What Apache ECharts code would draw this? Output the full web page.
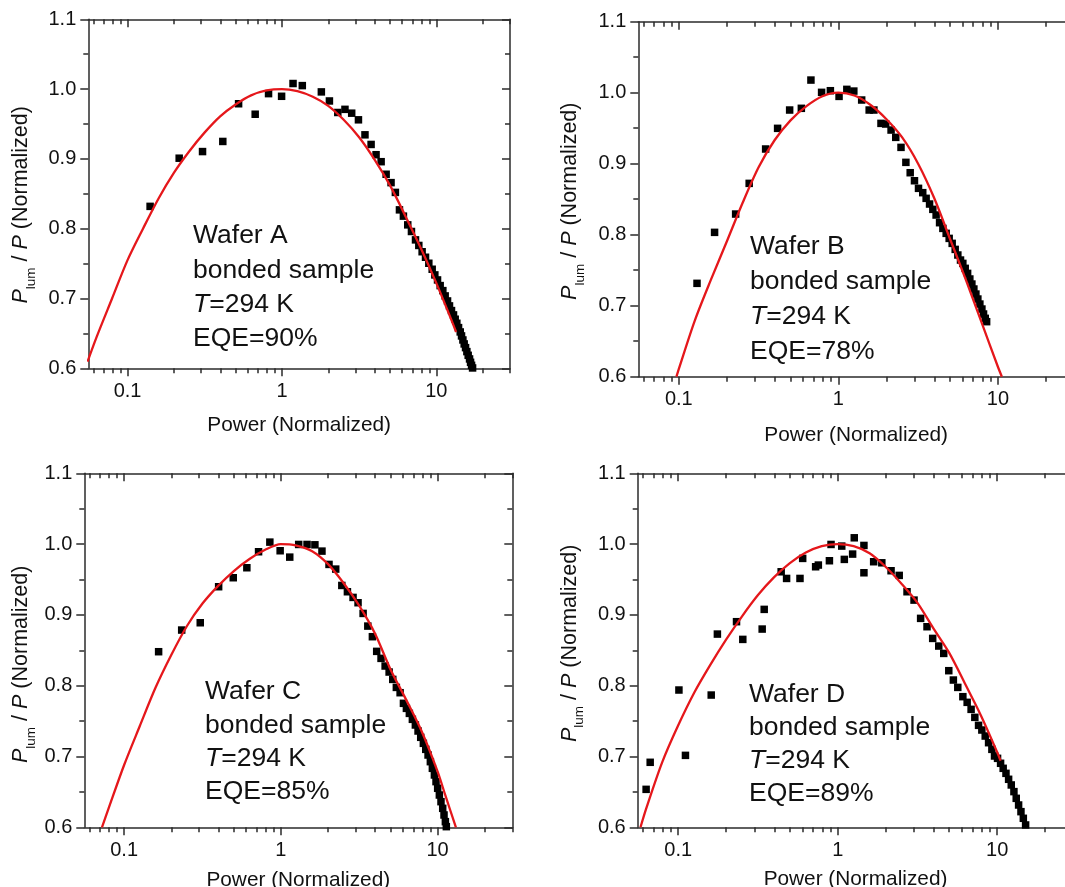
<!DOCTYPE html>
<html>
<head>
<meta charset="utf-8">
<script src="https://cdn.jsdelivr.net/npm/echarts@6/dist/echarts.min.js"></script>
<style>
html,body{margin:0;padding:0;background:#fff;}
#chart{width:1065px;height:887px;}
</style>
</head>
<body>
<div id="chart"></div>
<script>
// ---------- axis ticks ----------
const X_MIN = 0.0557, X_MAX = 30;
const xMajorTicks = [0.1, 1, 10];
const xMinorTicks = [0.06, 0.07, 0.08, 0.09, 0.2, 0.3, 0.4, 0.5, 0.6, 0.7, 0.8, 0.9, 2, 3, 4, 5, 6, 7, 8, 9, 20, 30];
const Y_MIN = 0.6, Y_MAX = 1.1, Y_STEP = 0.1;

// ---------- Wafer A ----------
const aPower = [0.140,0.216,0.306,0.414,0.524,0.671,0.819,0.995,1.18,1.355,1.80,2.03,2.30,2.56,2.83,3.13,3.45,3.78,4.07,4.39,4.73,5.09,5.43,5.77,6.12,6.53,6.90,7.33,7.70,8.09,8.51,8.94,9.40,9.78,10.18,10.59,11.02,11.41,11.82,12.17,12.54,12.92,13.25,13.58,13.93,14.28,14.56,14.86,15.15,15.46,15.77,16.08,16.41,16.66,16.91,17.17];
const aRatio = [0.832,0.901,0.9105,0.925,0.979,0.964,0.9935,0.9897,1.008,1.005,0.996,0.983,0.9665,0.971,0.9655,0.956,0.9345,0.9207,0.906,0.896,0.878,0.866,0.852,0.827,0.818,0.8055,0.796,0.784,0.776,0.767,0.7591,0.7505,0.7419,0.7338,0.7266,0.7185,0.7113,0.7037,0.6965,0.6894,0.6827,0.6765,0.6703,0.6645,0.6583,0.6521,0.6464,0.6406,0.6349,0.6296,0.6239,0.6186,0.6134,0.6086,0.6043,0.6005];
const aFitPower = [0.0551,0.0631,0.0794,0.1,0.1259,0.1585,0.1995,0.2512,0.3162,0.3981,0.5012,0.631,0.7943,1.0,1.259,1.585,1.995,2.512,3.162,3.981,5.012,6.31,7.943,10.0,12.59,13.43];
const aFitRatio = [0.6096,0.645,0.700,0.755,0.800,0.843,0.880,0.911,0.938,0.961,0.978,0.991,0.998,1.0,0.997,0.989,0.976,0.956,0.931,0.899,0.862,0.818,0.772,0.722,0.668,0.652];

// ---------- Wafer B ----------
const bPower = [0.130,0.1675,0.227,0.276,0.350,0.416,0.495,0.586,0.673,0.785,0.891,1.01,1.13,1.25,1.40,1.56,1.67,1.85,1.98,2.14,2.29,2.47,2.65,2.82,3.00,3.18,3.38,3.55,3.73,3.91,4.10,4.31,4.52,4.74,4.95,5.17,5.40,5.61,5.83,6.03,6.24,6.46,6.67,6.87,7.07,7.28,7.49,7.71,7.94,8.13,8.33,8.50];
const bRatio = [0.7315,0.8033,0.8291,0.8723,0.9207,0.9498,0.9756,0.978,1.0178,1.0005,1.0028,0.9948,1.0047,1.0023,0.9897,0.9756,0.9756,0.9568,0.9559,0.9474,0.9371,0.923,0.9019,0.8873,0.876,0.8653,0.8592,0.8512,0.8432,0.8357,0.8277,0.8169,0.8089,0.8019,0.7948,0.7878,0.7793,0.7714,0.7643,0.7596,0.7526,0.7455,0.7376,0.7305,0.7235,0.7164,0.7094,0.7023,0.6953,0.6883,0.6822,0.6775];
const bFitPower = [0.0966,0.1,0.1259,0.1585,0.1995,0.2512,0.3162,0.3981,0.5012,0.631,0.7943,1.0,1.259,1.585,1.995,2.512,3.162,3.981,5.012,6.31,7.943,10.0,10.59];
const bFitRatio = [0.600,0.611,0.679,0.736,0.790,0.845,0.895,0.933,0.961,0.981,0.995,1.0,0.996,0.983,0.963,0.937,0.900,0.852,0.794,0.736,0.675,0.614,0.600];

// ---------- Wafer C ----------
const cPower = [0.166,0.233,0.306,0.401,0.497,0.607,0.721,0.851,0.990,1.14,1.30,1.47,1.65,1.83,2.03,2.24,2.45,2.66,2.89,3.11,3.35,3.59,3.84,4.09,4.36,4.63,4.91,5.18,5.46,5.77,6.06,6.33,6.61,6.91,7.22,7.51,7.81,8.12,8.41,8.70,9.00,9.27,9.55,9.78,10.02,10.27,10.52,10.79,11.0,11.22,11.38];
const cRatio = [0.848,0.8786,0.8889,0.9398,0.9525,0.9666,0.9892,1.0028,0.9906,0.9816,0.9995,0.9995,0.999,0.9901,0.9713,0.9647,0.9416,0.9327,0.9247,0.9172,0.9021,0.8842,0.8692,0.8485,0.8386,0.8278,0.8193,0.8089,0.7976,0.7901,0.7751,0.768,0.7609,0.7525,0.7445,0.736,0.7271,0.7186,0.7101,0.7021,0.6927,0.6833,0.6739,0.6645,0.6551,0.6456,0.6362,0.6268,0.6174,0.608,0.6009];
const cFitPower = [0.0722,0.0794,0.1,0.1259,0.1585,0.1995,0.2512,0.3162,0.3981,0.5012,0.631,0.7943,1.0,1.259,1.585,1.995,2.512,3.162,3.981,5.012,6.31,7.943,10.0,11.22,13.1];
const cFitRatio = [0.600,0.626,0.688,0.743,0.797,0.843,0.884,0.916,0.941,0.962,0.979,0.992,1.0,0.998,0.990,0.972,0.945,0.913,0.874,0.823,0.780,0.735,0.679,0.645,0.600];

// ---------- Wafer D ----------
const dPower = [0.0629,0.0667,0.101,0.111,0.161,0.176,0.232,0.254,0.336,0.346,0.442,0.478,0.580,0.603,0.727,0.756,0.887,0.908,1.06,1.10,1.24,1.27,1.46,1.46,1.68,1.89,2.16,2.43,2.72,3.01,3.31,3.63,3.94,4.30,4.62,4.97,5.31,5.66,6.09,6.48,6.86,7.24,7.64,8.01,8.41,8.83,9.26,9.62,10.05,10.5,10.9,11.35,11.79,12.25,12.73,13.16,13.62,14.09,14.58,15.07];
const dRatio = [0.6536,0.6918,0.7939,0.7016,0.7868,0.8729,0.8904,0.8654,0.88,0.9078,0.9609,0.9515,0.9515,0.9798,0.968,0.9704,0.9765,0.9995,0.9972,0.9784,0.9859,1.0089,0.9981,0.9595,0.9751,0.9736,0.9624,0.9558,0.9327,0.9209,0.8951,0.8833,0.8668,0.856,0.8456,0.8212,0.808,0.7976,0.7845,0.7765,0.7666,0.7553,0.744,0.7374,0.7289,0.7195,0.7101,0.7007,0.6974,0.6904,0.6833,0.6762,0.6678,0.6598,0.6504,0.6409,0.6315,0.6221,0.6127,0.6033];
const dFitPower = [0.058,0.0631,0.0794,0.1,0.1259,0.1585,0.1995,0.2512,0.3162,0.3981,0.5012,0.631,0.7943,1.0,1.259,1.585,1.995,2.512,3.162,3.981,5.012,6.31,7.943,10.0,10.5];
const dFitRatio = [0.600,0.627,0.692,0.744,0.790,0.829,0.865,0.898,0.928,0.953,0.973,0.988,0.997,1.0,0.997,0.987,0.968,0.944,0.917,0.881,0.846,0.802,0.757,0.706,0.694];

// ---------- text ----------
const waferNames = ['Wafer A', 'Wafer B', 'Wafer C', 'Wafer D'];
const sampleLabel = 'bonded sample';
const tempLabel = '{i|T}=294 K';
const eqeLabels = ['EQE=90%', 'EQE=78%', 'EQE=85%', 'EQE=89%'];
const xTitle = 'Power (Normalized)';
const yTitle = '{i|P}{s|lum}{n| / }{i|P}{n| (Normalized)}';

// ---------- styling / layout ----------
const FONT = "'Liberation Sans', Arial, Helvetica, sans-serif";
const AXC = '#2b2b2b';
const TXT = '#111111';
const RED = '#e5171b';

const panels = [
  {px: aPower, py: aRatio, fx: aFitPower, fy: aFitRatio,
   grid: {left: 88.3, top: 19.3, width: 421.7, height: 349}, xGap: 46.5, yGap: 50, yShift: 11, tx: 193, ty: 236, tdy: 34.3},
  {px: bPower, py: bRatio, fx: bFitPower, fy: bFitRatio,
   grid: {left: 638.3, top: 21.7, width: 435.7, height: 355}, xGap: 48, yGap: 51, yShift: 2, tx: 750, ty: 247, tdy: 35},
  {px: cPower, py: cRatio, fx: cFitPower, fy: cFitRatio,
   grid: {left: 84.3, top: 473.3, width: 428, height: 354}, xGap: 42.5, yGap: 46, yShift: 14, tx: 205, ty: 692, tdy: 33.3},
  {px: dPower, py: dRatio, fx: dFitPower, fy: dFitRatio,
   grid: {left: 637.7, top: 473.3, width: 435.6, height: 354}, xGap: 41.5, yGap: 51, yShift: -7, tx: 749, ty: 695, tdy: 33}
];

const zip = (xs, ys) => xs.map((x, k) => [x, ys[k]]);
const lineSt = {color: AXC, width: 1.5};

const option = {
  backgroundColor: '#ffffff',
  animation: false,
  textStyle: {fontFamily: FONT},
  grid: [], xAxis: [], yAxis: [], series: [], graphic: []
};

panels.forEach((p, i) => {
  option.grid.push(Object.assign({containLabel: false, outerBoundsMode: 'none'}, p.grid));
  const xi = option.xAxis.length;
  const xBase = () => ({
    type: 'log', logBase: 10, min: X_MIN, max: X_MAX, gridIndex: i,
    splitLine: {show: false}, minorSplitLine: {show: false}
  });
  option.xAxis.push(Object.assign(xBase(), {
    position: 'bottom',
    name: xTitle, nameLocation: 'middle', nameGap: p.xGap, nameMoveOverlap: false,
    nameTextStyle: {fontFamily: FONT, fontSize: 20.8, color: TXT},
    axisLine: {show: true, onZero: false, lineStyle: lineSt},
    axisTick: {show: true, inside: false, length: 8, customValues: xMajorTicks, lineStyle: lineSt},
    axisLabel: {show: true, customValues: xMajorTicks, margin: 13, fontFamily: FONT, fontSize: 20, color: TXT,
                formatter: v => String(+(+v).toPrecision(3))}
  }));
  option.xAxis.push(Object.assign(xBase(), {
    position: 'bottom',
    axisLine: {show: false, onZero: false},
    axisTick: {show: true, inside: false, length: 5, customValues: xMinorTicks, lineStyle: lineSt},
    axisLabel: {show: false}
  }));
  option.xAxis.push(Object.assign(xBase(), {
    position: 'top',
    axisLine: {show: true, onZero: false, lineStyle: lineSt},
    axisTick: {show: true, inside: true, length: 8, customValues: xMajorTicks, lineStyle: lineSt},
    axisLabel: {show: false}
  }));
  option.xAxis.push(Object.assign(xBase(), {
    position: 'top',
    axisLine: {show: false, onZero: false},
    axisTick: {show: true, inside: true, length: 5, customValues: xMinorTicks, lineStyle: lineSt},
    axisLabel: {show: false}
  }));

  const yi = option.yAxis.length;
  const yBase = () => ({
    type: 'value', min: Y_MIN, max: Y_MAX, interval: Y_STEP, gridIndex: i,
    splitLine: {show: false}, minorSplitLine: {show: false}
  });
  const sh = p.yShift;
  option.yAxis.push(Object.assign(yBase(), {
    position: 'left',
    name: yTitle, nameLocation: 'middle', nameRotate: 90, nameGap: p.yGap, nameMoveOverlap: false,
    nameTextStyle: {
      fontFamily: FONT, fontSize: 21.5, color: TXT,
      padding: sh >= 0 ? [0, 2 * sh, 0, 0] : [0, 0, 0, -2 * sh],
      rich: {
        i: {fontFamily: FONT, fontSize: 21.5, fontStyle: 'italic', color: TXT, lineHeight: 34, verticalAlign: 'middle'},
        n: {fontFamily: FONT, fontSize: 21.5, color: TXT, lineHeight: 34, verticalAlign: 'middle'},
        s: {fontFamily: FONT, fontSize: 13.5, color: TXT, lineHeight: 14, verticalAlign: 'bottom'}
      }
    },
    axisLine: {show: true, onZero: false, lineStyle: lineSt},
    axisTick: {show: true, inside: false, length: 8, lineStyle: lineSt},
    minorTick: {show: true, splitNumber: 2, length: 5, lineStyle: lineSt},
    axisLabel: {show: true, margin: 12, fontFamily: FONT, fontSize: 20, color: TXT,
                formatter: v => (+v).toFixed(1)}
  }));
  option.yAxis.push(Object.assign(yBase(), {
    position: 'right',
    axisLine: {show: true, onZero: false, lineStyle: lineSt},
    axisTick: {show: true, inside: true, length: 8, lineStyle: lineSt},
    minorTick: {show: true, splitNumber: 2, length: 5, lineStyle: lineSt},
    axisLabel: {show: false}
  }));

  option.series.push({
    type: 'scatter', xAxisIndex: xi, yAxisIndex: yi,
    data: zip(p.px, p.py), symbol: 'rect', symbolSize: 7.5,
    itemStyle: {color: '#000000', opacity: 1}, z: 2, clip: true
  });
  option.series.push({
    type: 'line', xAxisIndex: xi, yAxisIndex: yi,
    data: zip(p.fx, p.fy), smooth: 0.3, showSymbol: false, symbol: 'none',
    lineStyle: {color: RED, width: 2.3, opacity: 1}, z: 3, clip: true
  });

  const lines = [waferNames[i], sampleLabel, tempLabel, eqeLabels[i]];
  lines.forEach((t, k) => {
    option.graphic.push({
      type: 'text', x: p.tx, y: p.ty + k * p.tdy, z: 20,
      style: {
        text: t, fontFamily: FONT, fontSize: 26.5, fill: TXT, align: 'left', verticalAlign: 'middle',
        rich: {i: {fontFamily: FONT, fontSize: 26.5, fontStyle: 'italic', fill: TXT}}
      }
    });
  });
});

const chart = echarts.init(document.getElementById('chart'), null, {renderer: 'canvas'});
chart.setOption(option);
</script>
</body>
</html>
